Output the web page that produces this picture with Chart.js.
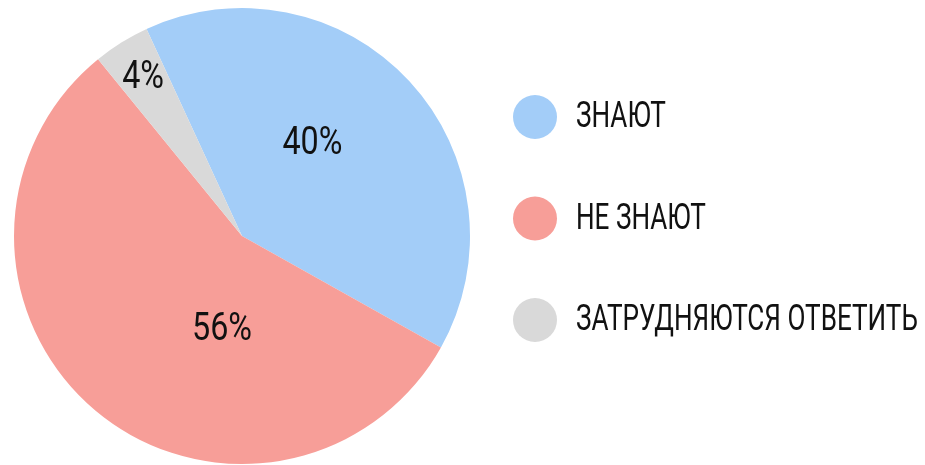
<!DOCTYPE html>
<html>
<head>
<meta charset="utf-8">
<script src="https://cdn.jsdelivr.net/npm/chart.js@4.4.1/dist/chart.umd.min.js"></script>
<style>
  html, body { margin: 0; padding: 0; background: #fff; overflow: hidden; }
  #wrap { width: 925px; height: 465px; position: relative; }
</style>
</head>
<body>
<div id="wrap"><canvas id="pieChart"></canvas></div>
<script>
const labels = ['ЗНАЮТ', 'НЕ ЗНАЮТ', 'ЗАТРУДНЯЮТСЯ ОТВЕТИТЬ'];
const values = [40, 56, 4];
const valueLabels = ['40%', '56%', '4%'];
const colors = ['#A3CDF8', '#F79E98', '#D9D9D9'];

// where each percent sits inside its slice: [radius fraction, angle shift in degrees]
const labelSpots = [[0.51, -10], [0.42, -28], [0.82, 0]];

const FONT = 'Roboto, "Liberation Sans", sans-serif';

// the original type is a condensed face, so squeeze a normal one sideways
function squeeze(ctx, sample, size, target) {
    ctx.save();
    ctx.font = size + 'px ' + FONT;
    const w = ctx.measureText(sample).width;
    ctx.restore();
    return target / w;
}

function squeezedText(ctx, text, x, y, size, align, sx) {
    ctx.save();
    ctx.font = size + 'px ' + FONT;
    ctx.textBaseline = 'middle';
    ctx.textAlign = align;
    ctx.translate(x, y);
    ctx.scale(sx, 1);
    ctx.fillText(text, 0, 0);
    ctx.restore();
}

const percentPlugin = {
    id: 'percentLabels',
    afterDatasetsDraw(chart) {
        const ctx = chart.ctx;
        const arcs = chart.getDatasetMeta(0).data;
        const sx = squeeze(ctx, '40%', 39, 60);
        ctx.fillStyle = '#111';
        arcs.forEach((arc, i) => {
            const mid = (arc.startAngle + arc.endAngle) / 2 + labelSpots[i][1] * Math.PI / 180;
            const r = arc.outerRadius * labelSpots[i][0];
            squeezedText(ctx, valueLabels[i], arc.x + Math.cos(mid) * r, arc.y + Math.sin(mid) * r + 1, 39, 'center', sx);
        });
    }
};

const sideLegend = {
    id: 'sideLegend',
    afterDraw(chart) {
        const ctx = chart.ctx;
        const sx = squeeze(ctx, labels[2], 37, 342);
        labels.forEach((lab, i) => {
            const y = 117 + i * 101.5;
            ctx.beginPath();
            ctx.fillStyle = colors[i];
            ctx.arc(535, y, 22, 0, Math.PI * 2);
            ctx.fill();
            ctx.fillStyle = '#111';
            squeezedText(ctx, lab, 576, y + 1, 37, 'left', sx);
        });
    }
};

const ctx = document.getElementById('pieChart').getContext('2d');
const pieChart = new Chart(ctx, {
    type: 'pie',
    data: {
        labels: labels,
        datasets: [{
            data: values,
            backgroundColor: colors,
            borderWidth: 0
        }]
    },
    options: {
        responsive: true,
        maintainAspectRatio: false,
        animation: false,
        rotation: -24.75,
        layout: { padding: { left: 14, right: 455, top: 8, bottom: 1 } },
        plugins: {
            legend: { display: false },
            tooltip: { enabled: false }
        }
    },
    plugins: [percentPlugin, sideLegend]
});
</script>
</body>
</html>
